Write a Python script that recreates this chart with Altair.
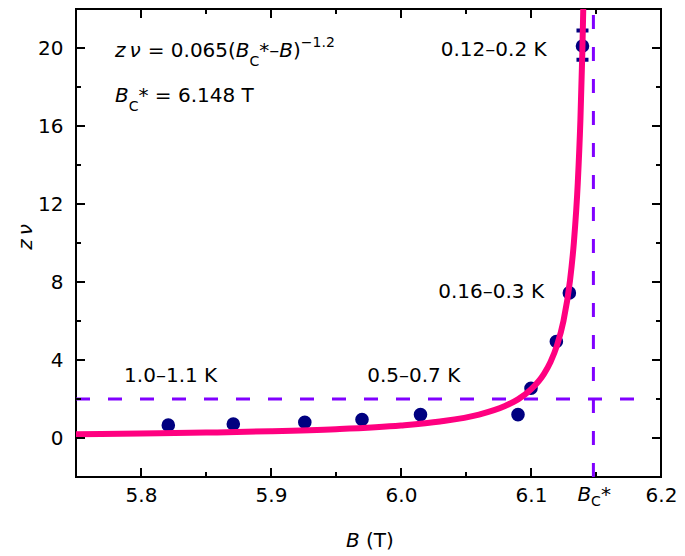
import altair as alt
import pandas as pd

# ---------------- data ----------------
B_pts = [5.821, 5.871, 5.926, 5.970, 6.015, 6.090, 6.100, 6.1195, 6.1295, 6.1396]
zv_pts = [0.66, 0.72, 0.81, 0.95, 1.20, 1.20, 2.55, 4.95, 7.44, 20.1]

err_B = [6.1396]
err_lo = [19.4]
err_hi = [20.9]

fit_B = [5.75, 5.80, 5.85, 5.90, 5.95, 6.00, 6.03, 6.06, 6.08, 6.09, 6.10, 6.11,
         6.115, 6.12, 6.125, 6.13, 6.133, 6.136, 6.138, 6.1395, 6.1402, 6.141]
fit_zv = [0.196, 0.231, 0.278, 0.346, 0.454, 0.644, 0.845, 1.20, 1.64, 1.98, 2.49, 3.29,
          3.90, 4.75, 6.01, 8.07, 10.04, 13.1, 16.3, 19.8, 22.0, 25.0]

x_major = [5.8, 5.9, 6.0, 6.1, 6.2]
x_minor = [5.85, 5.95, 6.05, 6.15]
y_major = [0, 4, 8, 12, 16, 20]
y_minor = [2, 6, 10, 14, 18]

bc_star = [6.148]
h_level = [2, 2]
h_span = [5.75, 6.19]
v_span = [-2, 22]

x_domain = [5.75, 6.2]
y_domain = [-2, 22]

left_labels = ["1.0–1.1 K", "0.5–0.7 K"]
left_B = [5.787, 5.974]
left_zv = [3.18, 3.18]
right_labels = ["0.12–0.2 K", "0.16–0.3 K"]
right_B = [6.112, 6.110]
right_zv = [19.9, 7.47]

# ---------------- style ----------------
W, H = 585, 468
FONT = "DejaVu Sans"
PINK = "#ff0080"
PURPLE = "#8000ff"
NAVY = "#000080"

xs = alt.Scale(domain=x_domain, nice=False, zero=False)
ys = alt.Scale(domain=y_domain, nice=False, zero=False)

xax = alt.Axis(values=x_major, format=".1f", title=None, grid=False, domain=False,
               ticks=False, tickSize=0, labelPadding=8, labelFont=FONT, labelFontSize=20,
               labelColor="black", labelFlush=False, labelOverlap=False)
yax = alt.Axis(values=y_major, title=None, grid=False, domain=False, ticks=False,
               tickSize=0, labelPadding=13, labelFont=FONT, labelFontSize=20,
               labelColor="black", labelOverlap=False)

def X(f):
    return alt.X(f, scale=xs, axis=xax)

def Y(f):
    return alt.Y(f, scale=ys, axis=yax)

pts_df = pd.DataFrame({"B": B_pts, "zv": zv_pts})
fit_df = pd.DataFrame({"B": fit_B, "zv": fit_zv})
err_df = pd.DataFrame({"B": err_B, "lo": err_lo, "hi": err_hi})
dummy = pd.DataFrame({"d": [0]})

points = alt.Chart(pts_df).mark_circle(size=185, color=NAVY, opacity=1).encode(
    x=X("B:Q"), y=Y("zv:Q"))

err_rule = alt.Chart(err_df).mark_rule(color=NAVY, strokeWidth=2).encode(
    x=X("B:Q"), y=Y("lo:Q"), y2="hi:Q")
err_lo_cap = alt.Chart(err_df).mark_tick(color=NAVY, orient="horizontal", size=12, thickness=4, opacity=1).encode(
    x=X("B:Q"), y=Y("lo:Q"))
err_hi_cap = alt.Chart(err_df).mark_tick(color=NAVY, orient="horizontal", size=12, thickness=4, opacity=1).encode(
    x=X("B:Q"), y=Y("hi:Q"))

fit = alt.Chart(fit_df).mark_line(color=PINK, strokeWidth=6, interpolate="monotone", clip=True).encode(
    x=X("B:Q"), y=Y("zv:Q"), order="B:Q")

hline = alt.Chart(pd.DataFrame({"B": h_span, "zv": h_level})).mark_line(
    color=PURPLE, strokeWidth=3, strokeDash=[14, 18]).encode(x=X("B:Q"), y=Y("zv:Q"))
vline = alt.Chart(pd.DataFrame({"B": bc_star * 2, "zv": v_span})).mark_line(
    color=PURPLE, strokeWidth=3, strokeDash=[14, 18]).encode(x=X("B:Q"), y=Y("zv:Q"))

# inward tick marks on all four sides
def xticks(vals, length):
    df = pd.DataFrame({"v": vals})
    bot = alt.Chart(df).mark_rule(color="black", strokeWidth=2).encode(
        x=X("v:Q"), y=alt.value(H), y2=alt.value(H - length))
    top = alt.Chart(df).mark_rule(color="black", strokeWidth=2).encode(
        x=X("v:Q"), y=alt.value(0), y2=alt.value(length))
    return [bot, top]

def yticks(vals, length):
    df = pd.DataFrame({"v": vals})
    lef = alt.Chart(df).mark_rule(color="black", strokeWidth=2).encode(
        y=Y("v:Q"), x=alt.value(0), x2=alt.value(length))
    rig = alt.Chart(df).mark_rule(color="black", strokeWidth=2).encode(
        y=Y("v:Q"), x=alt.value(W), x2=alt.value(W - length))
    return [lef, rig]

tick_layers = xticks(x_major, 9) + xticks(x_minor, 5) + yticks(y_major, 9) + yticks(y_minor, 5)

# temperature labels
lab_left = alt.Chart(pd.DataFrame({"B": left_B, "zv": left_zv, "t": left_labels})).mark_text(
    font=FONT, fontSize=20, align="left", baseline="middle", color="black").encode(
    x=X("B:Q"), y=Y("zv:Q"), text="t:N")
lab_right = alt.Chart(pd.DataFrame({"B": right_B, "zv": right_zv, "t": right_labels})).mark_text(
    font=FONT, fontSize=20, align="right", baseline="middle", color="black").encode(
    x=X("B:Q"), y=Y("zv:Q"), text="t:N")

def txt(s, x, y, size=20, italic=False, align="left", baseline="alphabetic", angle=None):
    kw = dict(text=s, font=FONT, fontSize=size, align=align, baseline=baseline, color="black")
    if italic:
        kw["fontStyle"] = "italic"
    if angle is not None:
        kw["angle"] = angle
    return alt.Chart(dummy).mark_text(**kw).encode(x=alt.value(x), y=alt.value(y))

formula = [
    txt("z\u2009ν", 39, 48, italic=True),
    txt("= 0.065(", 71.7, 48),
    txt("B", 159.8, 48, italic=True),
    txt("C", 173.5, 57, size=14),
    txt("*–", 183.3, 48),
    txt("B", 203.3, 48, italic=True),
    txt(")", 217, 48),
    txt("−1.2", 224.8, 38, size=14),
    txt("B", 39, 92.5, italic=True),
    txt("C", 52.7, 101.5, size=14),
    txt("* = 6.148 T", 62.5, 92.5),
]

titles = [
    txt("B", 270, H + 70, italic=True),
    txt("(T)", 290, H + 70),
    txt("z\u2009ν", -50, 228, italic=True, align="center", baseline="middle", angle=270),
]

def bc_piece(s, dx, dy, size=20, italic=False):
    kw = dict(text=s, font=FONT, fontSize=size, align="left", baseline="alphabetic",
              color="black", dx=dx)
    if italic:
        kw["fontStyle"] = "italic"
    return alt.Chart(pd.DataFrame({"B": bc_star})).mark_text(**kw).encode(
        x=X("B:Q"), y=alt.value(H + dy))

bc_label = [
    bc_piece("B", -16, 24, italic=True),
    bc_piece("C", -2.3, 29, size=14),
    bc_piece("*", 7.5, 24),
]

chart = alt.layer(
    points, hline, vline, err_rule, err_lo_cap, err_hi_cap, fit,
    *tick_layers, lab_left, lab_right, *formula, *titles, *bc_label
).properties(
    width=W, height=H,
    autosize=alt.AutoSizeParams(type="none"),
    padding={"left": 68, "top": 1, "right": 16, "bottom": 78},
).configure_view(
    stroke="black", strokeWidth=2
)

chart.save("out.html", embed_options={"renderer": "svg", "actions": False})
